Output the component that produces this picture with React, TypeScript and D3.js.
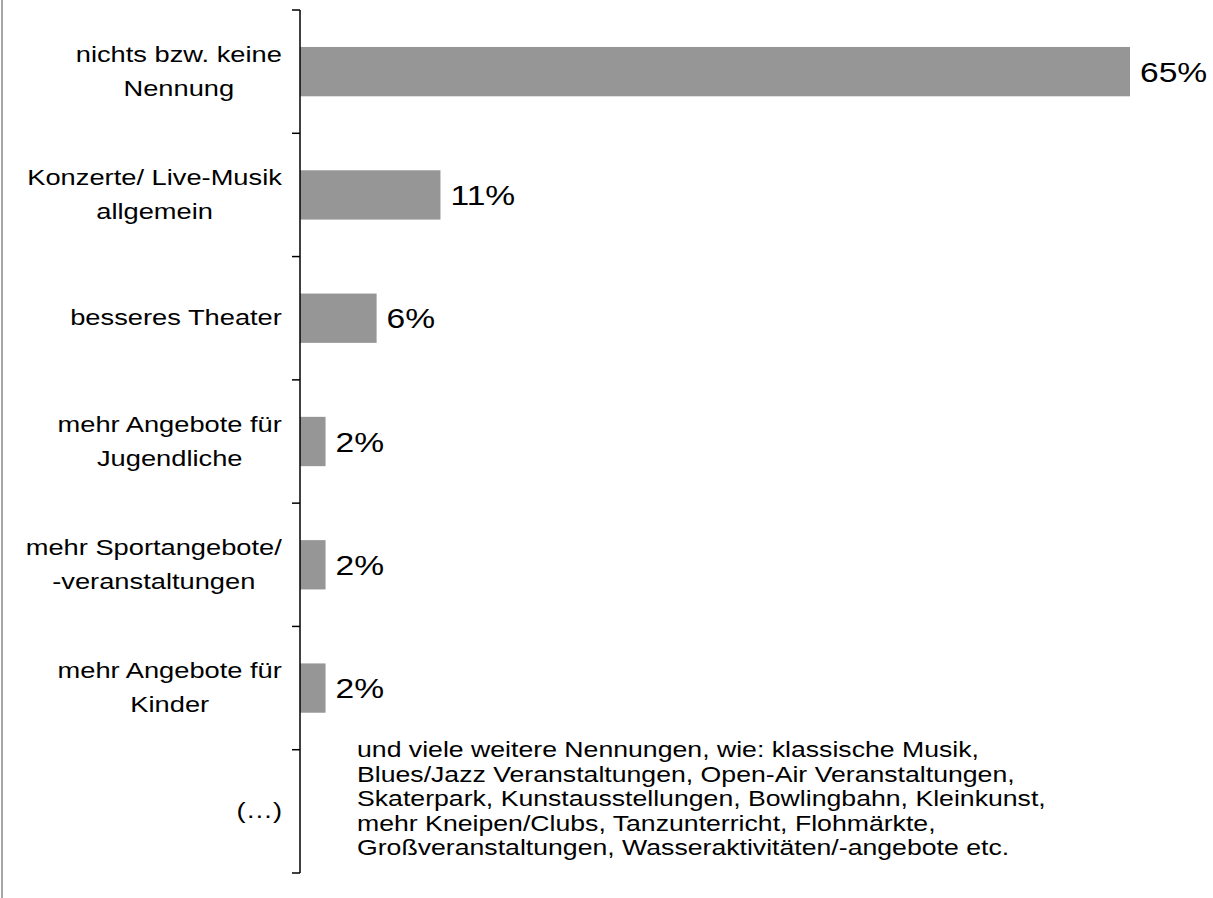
import { useEffect, useRef } from "react";
import * as d3 from "d3";

const CATEGORIES = [
  "nichts bzw. keine\nNennung",
  "Konzerte/ Live-Musik\nallgemein",
  "besseres Theater",
  "mehr Angebote für\nJugendliche",
  "mehr Sportangebote/\n-veranstaltungen",
  "mehr Angebote für\nKinder",
  "(…)",
];
const VALUES: (number | null)[] = [65, 11, 6, 2, 2, 2, null];
const NOTE_LINES = [
  "und viele weitere Nennungen, wie: klassische Musik,",
  "Blues/Jazz Veranstaltungen, Open-Air Veranstaltungen,",
  "Skaterpark, Kunstausstellungen, Bowlingbahn, Kleinkunst,",
  "mehr Kneipen/Clubs, Tanzunterricht, Flohmärkte,",
  "Großveranstaltungen, Wasseraktivitäten/-angebote etc.",
];

const W = 1213;
const H = 898;
const FONT = "Arial, 'Liberation Sans', sans-serif";
// the source picture is stretched sideways, so text is widened too
const STRETCH = 1.24;

export default function App() {
  const ref = useRef<SVGSVGElement | null>(null);

  useEffect(() => {
    const svg = d3.select(ref.current);
    svg.selectAll("*").remove();

    const axisX = 300;
    const top = 10;
    const bottom = 873;

    const y = d3
      .scaleBand<string>()
      .domain(CATEGORIES)
      .range([top, bottom])
      .paddingInner(0.6)
      .paddingOuter(0.3);
    const x = d3.scaleLinear().domain([0, 65]).range([axisX, 1130]);
    const step = y.step();

    // chart border on the left
    svg.append("line")
      .attr("x1", 2).attr("x2", 2).attr("y1", 0).attr("y2", H)
      .attr("stroke", "#a6a6a6").attr("stroke-width", 2);

    const rows = CATEGORIES.map((c, i) => ({ c, v: VALUES[i] }));

    svg.selectAll("rect.bar")
      .data(rows.filter((d) => d.v !== null))
      .join("rect")
      .attr("class", "bar")
      .attr("x", axisX)
      .attr("y", (d) => y(d.c)!)
      .attr("width", (d) => x(d.v as number) - axisX)
      .attr("height", y.bandwidth())
      .attr("fill", "#969696");

    // axis + ticks
    svg.append("line")
      .attr("x1", axisX).attr("x2", axisX).attr("y1", top).attr("y2", bottom)
      .attr("stroke", "#000").attr("stroke-width", 1.5);
    const ticks = CATEGORIES.map((c) => y(c)! - step * 0.3).concat([bottom]);
    svg.selectAll("line.tick")
      .data(ticks)
      .join("line")
      .attr("class", "tick")
      .attr("x1", axisX - 8).attr("x2", axisX)
      .attr("y1", (d) => d).attr("y2", (d) => d)
      .attr("stroke", "#000").attr("stroke-width", 1.5);

    // category labels: block right aligned, lines centered inside block
    const lineH = 34;
    const right = 282;
    rows.forEach((d) => {
      const lines = d.c.split("\n");
      const cy = y(d.c)! + y.bandwidth() / 2;
      const gs = svg.append("g").selectAll("g")
        .data(lines)
        .join("g");
      const texts = gs.append("text")
        .attr("font-family", FONT)
        .attr("font-size", 22)
        .attr("fill", "#000")
        .text((t) => t);
      const widths = texts.nodes().map((n) => (n as SVGTextElement).getComputedTextLength() * STRETCH);
      const blockW = d3.max(widths) || 0;
      gs.attr("transform", (_, i) => {
        const tx = right - blockW / 2 - widths[i] / 2;
        const ty = cy + (i - (lines.length - 1) / 2) * lineH + 7;
        return `translate(${tx},${ty}) scale(${STRETCH},1)`;
      });
    });

    // value labels
    svg.selectAll("g.val")
      .data(rows.filter((d) => d.v !== null))
      .join("g")
      .attr("class", "val")
      .attr("transform", (d) =>
        `translate(${x(d.v as number) + 10},${y(d.c)! + y.bandwidth() / 2 + 10}) scale(1.2,1)`)
      .append("text")
      .attr("font-family", FONT)
      .attr("font-size", 28)
      .attr("fill", "#000")
      .text((d) => `${d.v}%`);

    // note text
    svg.selectAll("g.note")
      .data(NOTE_LINES)
      .join("g")
      .attr("class", "note")
      .attr("transform", (_, i) => `translate(357,${757 + i * 24.6}) scale(${STRETCH},1)`)
      .append("text")
      .attr("font-family", FONT)
      .attr("font-size", 21.5)
      .attr("fill", "#000")
      .text((t) => t);
  }, []);

  return (
    <svg
      ref={ref}
      width={W}
      height={H}
      style={{ position: "absolute", left: 0, top: 0, background: "#fff" }}
    />
  );
}
